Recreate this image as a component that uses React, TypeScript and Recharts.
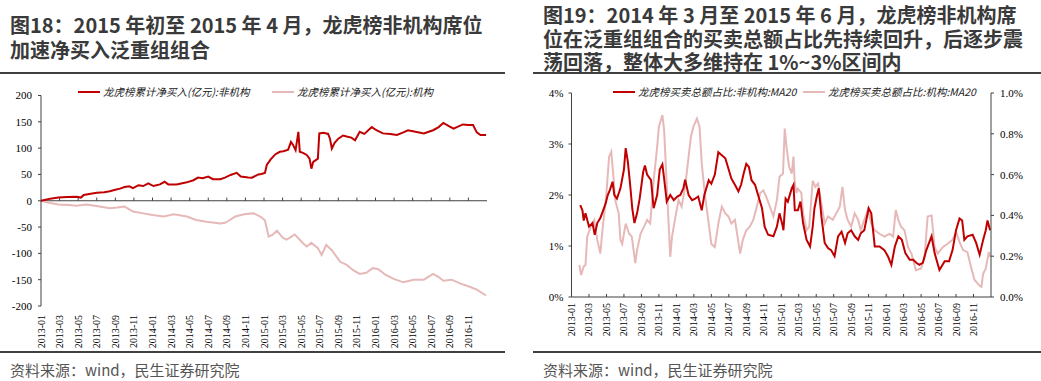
import React from 'react';
import { Line, LineChart, ReferenceLine, XAxis, YAxis } from 'recharts';

// x positions are months since 2013-01
const tickLabels = [
  '2013-01', '2013-03', '2013-05', '2013-07', '2013-09', '2013-11',
  '2014-01', '2014-03', '2014-05', '2014-07', '2014-09', '2014-11',
  '2015-01', '2015-03', '2015-05', '2015-07', '2015-09', '2015-11',
  '2016-01', '2016-03', '2016-05', '2016-07', '2016-09', '2016-11',
];
const tickMonths = tickLabels.map((_, i) => i * 2);

const netBuyTicks = [200, 150, 100, 50, 0, -50, -100, -150, -200];
const shareTicks = [0, 1, 2, 3, 4];
const shareInstTicks = [0, 0.2, 0.4, 0.6, 0.8, 1.0];

// 龙虎榜累计净买入(亿元):非机构
const netBuyNonInstM = [0, 0.5, 1, 1.86, 2.8, 3.83, 4.3, 4.6, 5.2, 6, 6.8, 7.4, 8, 8.5, 9, 9.5, 9.9, 10.5, 11, 11.55, 12.1, 12.8, 13.3, 13.7, 14.6, 15.7, 16.4, 16.9, 17.4, 18, 18.5, 19.3, 19.8, 20.4, 21.06, 21.5, 22.3, 22.7, 23.4, 23.7, 24.1, 24.3, 24.7, 25.2, 25.7, 26.1, 26.6, 26.9, 27.1, 27.4, 27.7, 27.85, 28.2, 28.6, 28.9, 29.1, 29.3, 29.8, 29.95, 30.4, 30.9, 31.1, 31.3, 31.6, 32, 32.5, 32.9, 33.4, 33.8, 34.3, 34.8, 35.6, 36.1, 36.8, 37.6, 38.3, 39, 39.5, 40.3, 41.2, 42.2, 42.8, 43.3, 43.9, 44.4, 45.4, 46, 46.5, 46.9, 47.3, 47.9];
const netBuyNonInst = [0, 2, 4, 6, 7, 7.7, 6, 11, 13, 15, 16, 18, 21, 23, 26, 27.5, 24, 29.5, 28, 33, 28, 31, 36, 31, 31, 35, 39, 44, 43, 46, 41, 41, 44, 49, 53, 46, 44, 43.7, 50, 51, 53, 68, 78, 88, 93, 94, 97, 112, 107, 96, 131, 93, 91, 87, 80, 61, 74, 80, 128, 129, 127, 118, 99, 110, 118, 124, 122, 120, 115, 131, 127, 140, 134, 128, 127, 125, 130, 134, 131, 128, 134, 140, 148, 142, 137, 145, 144, 144, 130, 125, 125];

// 龙虎榜累计净买入(亿元):机构
const netBuyInstM = [0, 0.6, 1.86, 3, 3.83, 4.9, 5.97, 7.4, 8.2, 9, 9.9, 11, 12, 13.2, 14.3, 15.7, 16.7, 17.8, 19.3, 19.8, 20.2, 20.9, 22, 22.9, 23.6, 24.1, 24.5, 24.9, 25.4, 26, 26.4, 26.8, 27.3, 27.9, 28.2, 28.6, 29.1, 29.8, 30.2, 30.7, 31.3, 31.8, 32.2, 32.9, 33.6, 34.3, 35, 35.7, 36.3, 37.1, 37.9, 39, 40.1, 41.2, 42.2, 42.8, 43.3, 44.2, 45.1, 46.2, 46.9, 47.9];
const netBuyInst = [0, -3, -7, -8, -9.5, -7, -10, -14.4, -13, -11, -20.5, -24, -27, -30, -25.6, -30, -36.5, -40, -43, -42, -38, -30, -25.3, -24, -30, -37, -68, -65, -57, -70, -74, -70, -64, -75, -81, -87, -80, -90, -103, -84, -94, -106, -116, -122, -132, -139, -137, -128, -130, -141, -148, -155, -150, -150, -139, -145, -152, -150, -157, -164, -169, -180];

// 龙虎榜买卖总额占比:非机构:MA20 (%)
const shareNonInstM = [1.0, 1.25, 1.4, 1.6, 2.0, 2.4, 2.66, 2.95, 3.3, 3.5, 3.9, 4.15, 4.4, 4.7, 4.9, 5.2, 5.6, 6.0, 6.2, 6.45, 6.75, 6.95, 7.2, 7.5, 7.8, 8.2, 8.4, 8.65, 9.1, 9.4, 9.8, 10.1, 10.4, 10.6, 10.9, 11.3, 11.7, 12.1, 12.45, 12.8, 13.0, 13.4, 13.8, 14.15, 14.5, 14.9, 15.2, 15.7, 16.0, 16.4, 16.8, 17.2, 17.6, 17.95, 18.3, 18.7, 19.1, 19.4, 19.7, 20.0, 20.3, 20.6, 21.0, 21.4, 21.8, 22.1, 22.5, 23.1, 23.5, 23.8, 24.15, 24.25, 24.5, 24.75, 25.2, 25.4, 25.55, 25.9, 26.2, 26.5, 26.9, 27.3, 27.6, 27.8, 28.1, 28.3, 28.6, 28.97, 29.35, 29.7, 30.1, 30.5, 30.9, 31.3, 31.6, 32.0, 32.4, 32.8, 33.1, 33.5, 34.0, 34.3, 34.7, 35.25, 35.8, 36.2, 36.6, 37.0, 37.4, 37.8, 38.2, 38.7, 39.1, 39.45, 39.8, 40.2, 40.6, 41.2, 41.55, 42.1, 42.7, 43.2, 43.6, 44.0, 44.4, 44.7, 44.95, 45.3, 45.9, 46.3, 46.7, 47.1, 47.4, 47.6, 47.9];
const shareNonInst = [1.80, 1.70, 1.50, 1.64, 1.38, 1.45, 1.22, 1.45, 1.55, 1.64, 1.83, 2.0, 2.1, 2.26, 2.0, 1.93, 2.13, 2.5, 2.92, 2.65, 2.13, 1.74, 1.45, 1.64, 1.93, 2.45, 2.58, 2.4, 2.29, 1.74, 2.0, 2.5, 2.6, 2.32, 1.87, 2.0, 1.9, 1.97, 2.0, 2.13, 2.3, 2.0, 1.9, 1.93, 1.97, 1.7, 2.0, 2.29, 2.22, 2.4, 2.84, 2.78, 2.72, 2.52, 2.32, 2.2, 2.07, 2.2, 2.42, 2.61, 2.55, 2.29, 2.2, 1.97, 1.74, 1.38, 1.22, 1.19, 1.38, 1.64, 1.4, 1.31, 1.93, 1.87, 2.13, 2.2, 1.7, 1.7, 1.87, 1.45, 1.12, 0.99, 1.38, 1.74, 2.0, 2.13, 1.57, 1.06, 0.96, 0.92, 0.80, 1.19, 1.28, 1.06, 1.25, 1.31, 1.19, 1.12, 1.25, 1.31, 1.74, 1.64, 0.99, 0.99, 0.92, 0.80, 0.63, 0.99, 1.19, 1.12, 0.86, 0.73, 0.73, 0.67, 0.63, 0.67, 0.92, 1.19, 0.86, 0.53, 0.70, 0.70, 0.92, 1.31, 1.54, 1.50, 1.12, 1.19, 1.22, 1.06, 0.83, 1.12, 1.31, 1.5, 1.31];

// 龙虎榜买卖总额占比:机构:MA20 (%)
const shareInstM = [0.9, 1.1, 1.4, 1.6, 1.8, 2.2, 2.6, 2.95, 3.3, 3.5, 3.75, 4.0, 4.3, 4.55, 4.8, 5.0, 5.4, 5.6, 5.8, 6.2, 6.6, 6.9, 7.1, 7.3, 7.5, 7.9, 8.3, 8.65, 9.0, 9.4, 9.8, 10.0, 10.4, 10.6, 10.8, 11.0, 11.3, 11.5, 11.9, 12.25, 12.6, 13.0, 13.4, 13.66, 13.95, 14.35, 14.65, 14.9, 15.3, 15.7, 16.0, 16.4, 16.8, 17.2, 17.6, 17.95, 18.3, 18.7, 19.0, 19.3, 19.6, 20.0, 20.4, 20.8, 21.2, 21.6, 21.95, 22.3, 22.7, 23.1, 23.5, 23.8, 24.2, 24.4, 24.6, 24.9, 25.2, 25.4, 25.55, 25.75, 25.9, 26.3, 26.5, 26.9, 27.2, 27.6, 27.9, 28.2, 28.6, 28.97, 29.35, 29.9, 30.3, 30.7, 31.0, 31.3, 31.6, 32.0, 32.4, 32.8, 33.1, 33.5, 33.9, 34.3, 34.7, 35.25, 35.8, 36.4, 36.8, 37.1, 37.4, 37.7, 38.1, 38.5, 38.9, 39.4, 40.0, 40.4, 40.75, 41.2, 41.55, 41.9, 42.5, 43.0, 43.6, 44.0, 44.4, 44.8, 45.3, 45.7, 46.1, 46.7, 46.9, 47.1, 47.4, 47.75, 47.9];
const shareInst = [0.157, 0.108, 0.15, 0.157, 0.296, 0.345, 0.378, 0.28, 0.213, 0.31, 0.41, 0.51, 0.688, 0.712, 0.59, 0.475, 0.41, 0.28, 0.26, 0.36, 0.31, 0.296, 0.23, 0.166, 0.23, 0.31, 0.345, 0.378, 0.36, 0.57, 0.736, 0.835, 0.892, 0.818, 0.638, 0.458, 0.197, 0.296, 0.395, 0.475, 0.443, 0.54, 0.688, 0.785, 0.835, 0.875, 0.835, 0.655, 0.49, 0.36, 0.26, 0.245, 0.36, 0.443, 0.41, 0.395, 0.36, 0.378, 0.296, 0.213, 0.28, 0.327, 0.345, 0.378, 0.443, 0.51, 0.523, 0.49, 0.443, 0.395, 0.475, 0.59, 0.605, 0.826, 0.736, 0.638, 0.605, 0.688, 0.556, 0.51, 0.53, 0.51, 0.41, 0.327, 0.345, 0.57, 0.54, 0.556, 0.458, 0.36, 0.395, 0.378, 0.41, 0.443, 0.54, 0.426, 0.378, 0.345, 0.41, 0.378, 0.327, 0.378, 0.426, 0.36, 0.327, 0.31, 0.296, 0.31, 0.296, 0.426, 0.378, 0.345, 0.327, 0.245, 0.213, 0.131, 0.14, 0.197, 0.395, 0.40, 0.245, 0.213, 0.245, 0.26, 0.28, 0.32, 0.27, 0.23, 0.22, 0.15, 0.085, 0.055, 0.05, 0.114, 0.14, 0.22, 0.197];

const DARK_RED = '#C00000';
const PINK = '#E6B9B8';
const AXIS = '#404040';
const SERIF = 'Liberation Serif';
const CJK = '"Noto Sans CJK SC", sans-serif';

const toPoints = (xs: number[], ys: number[]) => xs.map((m, i) => ({ m, v: ys[i] }));

const monthLabel = (m: number) => tickLabels[Math.round(m / 2)] ?? '';

const RotatedTick = ({ x, y, payload, gap }: any) => (
  <g transform={`translate(${x},${y})`}>
    <text
      transform="rotate(-90)"
      x={-gap}
      y={0}
      dy="0.35em"
      textAnchor="end"
      style={{ fontSize: 10, fontFamily: SERIF }}
      fill="#000"
    >
      {monthLabel(payload.value)}
    </text>
  </g>
);

const LegendItem = ({ color, label, left }: { color: string; label: string; left: number }) => (
  <div style={{ position: 'absolute', left, top: 84, display: 'flex', alignItems: 'center', whiteSpace: 'nowrap' }}>
    <div style={{ width: 22, height: 2, background: color, marginRight: 3 }} />
    <span style={{ fontSize: 10.5, fontFamily: CJK, fontStyle: 'italic', color: '#222' }}>{label}</span>
  </div>
);

const Rule = ({ left, width, top }: { left: number; width: number; top: number }) => (
  <div style={{ position: 'absolute', left, width, top, height: 2, background: '#404040' }} />
);

const titleStyle: React.CSSProperties = {
  position: 'absolute',
  fontFamily: CJK,
  fontWeight: 700,
  fontSize: 20,
  color: '#3a3a3a',
  whiteSpace: 'nowrap',
};

const sourceStyle: React.CSSProperties = {
  position: 'absolute',
  top: 359,
  fontFamily: CJK,
  fontSize: 15,
  color: '#555',
  whiteSpace: 'nowrap',
};

const yTick = { fontSize: 11, fill: '#000', style: { fontFamily: SERIF } };

const NetBuyChart = () => (
  <LineChart width={520} height={352} margin={{ top: 95.5, right: 33, bottom: 0, left: 0 }}>
    <XAxis
      dataKey="m"
      type="number"
      domain={[0, 48]}
      ticks={tickMonths}
      axisLine={false}
      tickLine={false}
      tickSize={0}
      tickMargin={0}
      height={46}
      interval={0}
      tick={<RotatedTick gap={9} />}
    />
    <YAxis
      type="number"
      domain={[-200, 200]}
      ticks={netBuyTicks}
      width={41}
      interval={0}
      tick={yTick}
      tickSize={3}
      tickMargin={6}
      axisLine={{ stroke: AXIS }}
      tickLine={{ stroke: AXIS }}
    />
    <ReferenceLine y={0} stroke={AXIS} strokeWidth={1} />
    {tickMonths.slice(1).map((m) => (
      <ReferenceLine key={`t${m}`} segment={[{ x: m, y: 0 }, { x: m, y: 6 }]} stroke={AXIS} />
    ))}
    <Line data={toPoints(netBuyInstM, netBuyInst)} dataKey="v" type="linear" stroke={PINK} strokeWidth={2} dot={false} isAnimationActive={false} />
    <Line data={toPoints(netBuyNonInstM, netBuyNonInst)} dataKey="v" type="linear" stroke={DARK_RED} strokeWidth={2} dot={false} isAnimationActive={false} />
  </LineChart>
);

const ShareChart = () => (
  <LineChart width={521} height={352} margin={{ top: 93, right: 0, bottom: 0, left: 0 }}>
    <XAxis
      dataKey="m"
      type="number"
      domain={[0, 48]}
      ticks={tickMonths}
      xAxisId="x"
      axisLine={{ stroke: AXIS }}
      tickLine={false}
      tickSize={0}
      tickMargin={0}
      height={55}
      interval={0}
      tick={<RotatedTick gap={6} />}
    />
    <YAxis
      yAxisId="l"
      type="number"
      domain={[0, 4]}
      ticks={shareTicks}
      width={51.5}
      interval={0}
      tickFormatter={(v: number) => `${v}%`}
      tick={yTick}
      tickSize={3}
      tickMargin={5}
      axisLine={{ stroke: AXIS }}
      tickLine={{ stroke: AXIS }}
    />
    <YAxis
      yAxisId="r"
      orientation="right"
      type="number"
      domain={[0, 1]}
      ticks={shareInstTicks}
      width={50}
      interval={0}
      tickFormatter={(v: number) => `${v.toFixed(1)}%`}
      tick={yTick}
      tickSize={3}
      tickMargin={6}
      axisLine={{ stroke: AXIS }}
      tickLine={{ stroke: AXIS }}
    />
    {tickMonths.slice(1).map((m) => (
      <ReferenceLine key={`t${m}`} xAxisId="x" yAxisId="l" segment={[{ x: m, y: 0 }, { x: m, y: 0.06 }]} stroke={AXIS} />
    ))}
    <Line xAxisId="x" yAxisId="r" data={toPoints(shareInstM, shareInst)} dataKey="v" type="linear" stroke={PINK} strokeWidth={2} dot={false} isAnimationActive={false} />
    <Line xAxisId="x" yAxisId="l" data={toPoints(shareNonInstM, shareNonInst)} dataKey="v" type="linear" stroke={DARK_RED} strokeWidth={2} dot={false} isAnimationActive={false} />
  </LineChart>
);

export default function App() {
  return (
    <div style={{ position: 'absolute', left: 0, top: 0, width: 1041, height: 381, background: '#fff', overflow: 'hidden' }}>
      {/* left panel */}
      <div style={{ ...titleStyle, left: 10, top: 12, lineHeight: '25px' }}>
        <div>图18：2015 年初至 2015 年 4 月，龙虎榜非机构席位</div>
        <div>加速净买入泛重组组合</div>
      </div>
      <Rule left={0} width={505} top={72} />
      <div style={{ position: 'absolute', left: 0, top: 0 }}>
        <NetBuyChart />
      </div>
      <LegendItem color={DARK_RED} label="龙虎榜累计净买入(亿元):非机构" left={78} />
      <LegendItem color={PINK} label="龙虎榜累计净买入(亿元):机构" left={272} />
      <Rule left={0} width={505} top={351} />
      <div style={{ ...sourceStyle, left: 10 }}>资料来源：wind，民生证券研究院</div>

      {/* right panel */}
      <div style={{ ...titleStyle, left: 543, top: 3, lineHeight: '23.5px' }}>
        <div>图19：2014 年 3 月至 2015 年 6 月，龙虎榜非机构席</div>
        <div>位在泛重组组合的买卖总额占比先持续回升，后逐步震</div>
        <div>荡回落，整体大多维持在 1%~3%区间内</div>
      </div>
      <Rule left={533} width={508} top={72} />
      <div style={{ position: 'absolute', left: 520, top: 0 }}>
        <ShareChart />
      </div>
      <LegendItem color={DARK_RED} label="龙虎榜买卖总额占比:非机构:MA20" left={613} />
      <LegendItem color={PINK} label="龙虎榜买卖总额占比:机构:MA20" left={803} />
      <Rule left={533} width={508} top={351} />
      <div style={{ ...sourceStyle, left: 543 }}>资料来源：wind，民生证券研究院</div>
    </div>
  );
}
